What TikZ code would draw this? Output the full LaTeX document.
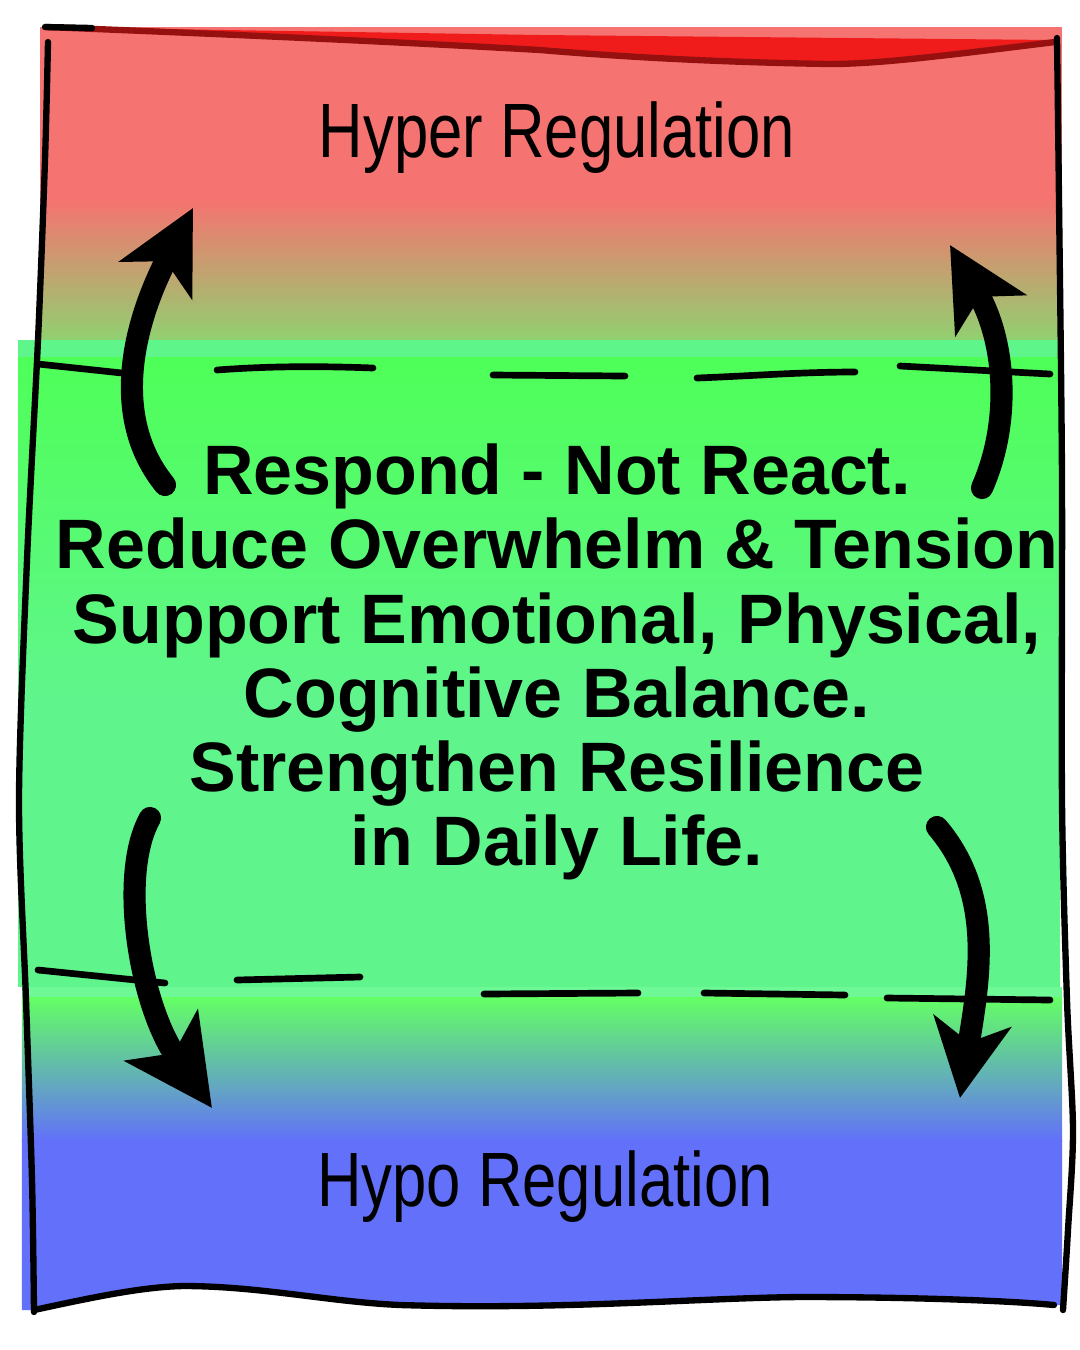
\documentclass[tikz,border=0pt]{standalone}
\usepackage{fontspec}
\setmainfont{Liberation Sans}
\newfontfamily\narrowfont[FakeStretch=0.8]{Liberation Sans}
\usepackage{xcolor}
\definecolor{hyperred}{RGB}{245,115,112}
\definecolor{hypermid}{RGB}{218,138,110}
\definecolor{hyperstrip}{RGB}{240,28,28}
\definecolor{hyperline}{RGB}{150,16,16}
\definecolor{olivemix}{RGB}{145,208,112}
\definecolor{zonepale}{RGB}{94,245,138}
\definecolor{zonebright}{RGB}{78,255,88}
\definecolor{zonegreen}{RGB}{96,245,140}
\definecolor{hypopale}{RGB}{110,248,150}
\definecolor{hypogreen}{RGB}{100,255,100}
\definecolor{hypoblue}{RGB}{98,112,250}
\usetikzlibrary{arrows.meta}

\begin{document}
\begin{tikzpicture}[
  x=0.01cm, y=-0.01cm,
  border/.style={line width=1.8pt,line cap=round},
  dashseg/.style={line width=1.9pt,line cap=round},
  bigarrow/.style={line width=6.3pt,line cap=round,
                   -{Stealth[length=#1,width=#1,inset=6pt]}},
  bigarrow/.default=23pt,
  zonelabel/.style={font=\narrowfont\fontsize{21.9}{24}\selectfont},
  goaltext/.style={font=\bfseries\fontsize{19.9}{21.1}\selectfont,align=center},
]
  \useasboundingbox (0,0) rectangle (1080,1350);

  % Hyper zone
  \fill[hyperred] (40,27) rectangle (1062,200);
  \shade[top color=hyperred,middle color=hypermid,bottom color=olivemix]
    (40,200) rectangle (1062,340);
  \fill[hyperstrip] (100,28) -- (540,35) -- (1055,40) -- (1055,42)
    .. controls (950,55) and (880,64) .. (830,64)
    .. controls (700,62) and (600,55) .. (540,50)
    .. controls (400,42) and (200,33) .. (45,27) -- cycle;
  \draw[hyperline,line width=1.8pt] (45,27)
    .. controls (200,33) and (400,42) .. (540,50)
    .. controls (600,55) and (700,62) .. (830,64)
    .. controls (880,64) and (950,55) .. (1055,42);
  \draw[border] (45,27) -- (92,28);

  % Window of tolerance
  \fill[zonepale] (18,340) rectangle (1060,357);
  \shade[top color=zonebright,bottom color=zonegreen] (18,357) rectangle (1060,700);
  \fill[zonegreen] (18,700) rectangle (1060,987);

  % Hypo zone
  \fill[hypopale] (22,987) rectangle (1062,997);
  \fill[hypoblue] (22,1140) -- (1062,1140) -- (1062,1305) -- (1054,1305)
    .. controls (1000,1300) and (900,1297) .. (800,1297)
    .. controls (700,1298) and (560,1310) .. (400,1305)
    .. controls (330,1302) and (260,1286) .. (183,1286)
    .. controls (140,1287) and (90,1298) .. (34,1310) -- (22,1310) -- cycle;
  \shade[top color=hypogreen,bottom color=hypoblue] (22,997) rectangle (1062,1141);

  % Hand drawn frame
  \draw[border] plot[smooth] coordinates
    {(48,42) (45,160) (38,340) (27,560) (19,800) (26,1000) (32,1180) (34,1312)};
  \draw[border] plot[smooth] coordinates
    {(1057,38) (1059,200) (1062,480) (1062,800) (1067,1000) (1073,1130) (1068,1230) (1063,1310)};
  \draw[border] (34,1310)
    .. controls (90,1298) and (140,1287) .. (183,1286)
    .. controls (260,1286) and (330,1302) .. (400,1305)
    .. controls (560,1310) and (700,1298) .. (800,1297)
    .. controls (900,1297) and (1000,1300) .. (1054,1305);

  % Upper boundary
  \draw[dashseg] (38,364) -- (122,373);
  \draw[dashseg] (217,370) .. controls (270,366) and (320,366) .. (373,368);
  \draw[dashseg] (493,375) -- (625,376);
  \draw[dashseg] (697,378) .. controls (750,376) and (800,372) .. (855,372);
  \draw[dashseg] (900,366) -- (1050,374);

  % Lower boundary
  \draw[dashseg] (38,970) -- (165,983);
  \draw[dashseg] (237,980) -- (360,977);
  \draw[dashseg] (484,994) -- (638,993);
  \draw[dashseg] (704,993) -- (845,995);
  \draw[dashseg] (887,998) -- (1050,1000);

  % Labels
  \node[zonelabel,anchor=base] (hyper) at (557,157) {Hyper Regulation};
  \node[zonelabel,anchor=base] (hypo) at (545,1206) {Hypo Regulation};
  \node[goaltext] (goals) at (557,662)
    {Respond - Not React.\\Reduce Overwhelm \& Tension\\Support Emotional, Physical,\\%
     Cognitive Balance.\\Strengthen Resilience\\in Daily Life.};

  % Swings out of the window
  \coordinate (upLtail) at (165,485);
  \coordinate (upLtip)  at (193,208);
  \coordinate (upRtail) at (982,488);
  \coordinate (upRtip)  at (950,245);
  \coordinate (dnLtail) at (150,818);
  \coordinate (dnLtip)  at (212,1108);
  \coordinate (dnRtail) at (937,827);
  \coordinate (dnRtip)  at (960,1098);

  \draw[bigarrow] (upLtail) .. controls (112,420) and (130,330) .. (upLtip);
  \draw[bigarrow] (upRtail) .. controls (1012,420) and (1005,340) .. (upRtip);
  \draw[bigarrow=25pt] (dnLtail) .. controls (118,875) and (140,1005) .. (dnLtip);
  \draw[bigarrow=22pt] (dnRtail) .. controls (995,895) and (979,980) .. (dnRtip);
\end{tikzpicture}
\end{document}
